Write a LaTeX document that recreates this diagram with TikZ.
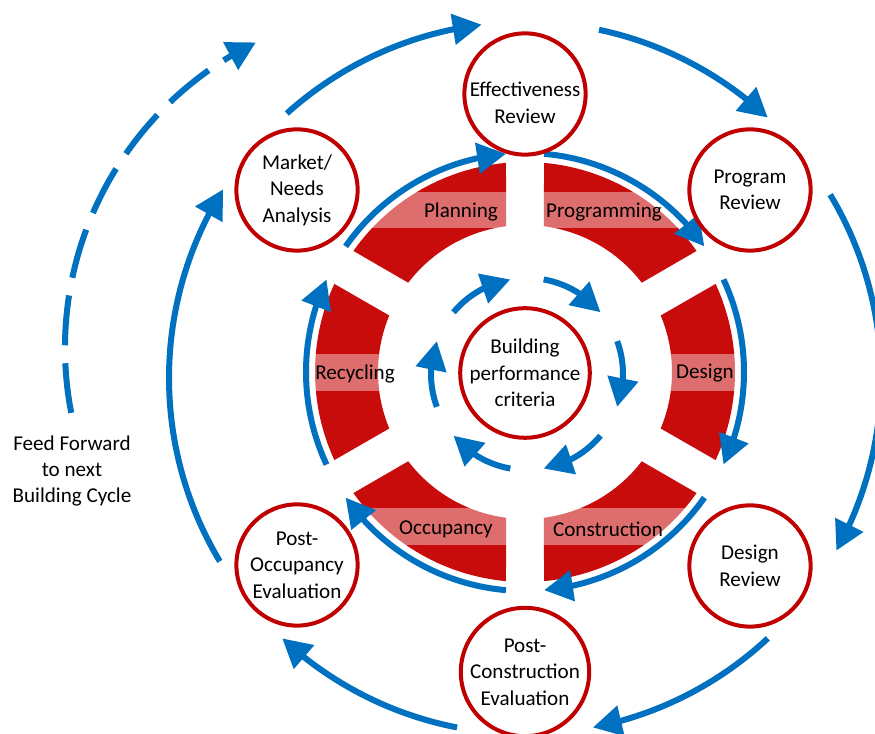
\documentclass[tikz,border=0pt]{standalone}
\usepackage{fontspec}
\setmainfont{Carlito}
\usetikzlibrary{arrows.meta,bending,calc}

\definecolor{ringred}{RGB}{200,12,12}
\definecolor{circred}{RGB}{192,0,0}
\definecolor{flowblue}{RGB}{0,112,192}

\begin{document}
\begin{tikzpicture}[x=0.025cm,y=0.025cm,
    font=\fontsize{15}{18.8}\selectfont,
    stage/.style={draw=circred, line width=0.1cm, circle, fill=white,
        minimum size=3.03cm, inner sep=0pt, align=center},
    flow/.style={draw=flowblue, line width=0.15cm,
        -{Triangle[length=0.72cm,width=0.75cm]}},
    band/.style={fill=white, fill opacity=0.4}]

\useasboundingbox (0,0) rectangle (875,734);

% centres
\coordinate (C) at (525,362);
\coordinate (Ci) at (527,360);
\coordinate (O) at (525,356);
\coordinate (F) at (405,386);

% Red ring, six segments
\foreach \a in {120,60,0,-60,-120,180}
  \fill[ringred] ($(C)+({\a+22.6}:147)$) -- ($(C)+({\a+24.8}:210)$)
    arc[start angle={\a+24.8}, end angle={\a-24.8}, radius=210]
    -- ($(C)+({\a-22.6}:147)$)
    arc[start angle={\a-22.6}, end angle={\a+22.6}, radius=147] -- cycle;

% Light bands behind the labels
\fill[band] (300,506) rectangle (750,542);
\fill[band] (300,343) rectangle (750,380);
\fill[band] (300,189) rectangle (750,226);

% Phase labels
\node (planning) at (461,522) {Planning};
\node (programming) at (604,522) {Programming};
\node (design) at (705,361) {Design};
\node (construction) at (608,205) {Construction};
\node (occupancy) at (446,205) {Occupancy};
\node (recycling) at (355,360) {Recycling};

% Inner cycle
\foreach \i in {0,...,5}
  \draw[flow] ($(Ci)+({140-60*\i}:96)$)
    arc[start angle={140-60*\i}, end angle={100-60*\i}, radius=96];

% Arrows along the ring
\foreach \a in {120,60,0,-60,-120,180}
  \draw[flow] ($(C)+({\a+25}:219)$)
    arc[start angle={\a+25}, end angle={\a-25}, radius=219];

% Outer cycle between the reviews
\foreach \s/\e in {132/97, 78/47, 31/-29, -47/-79, -101/-133, -149/-212}
  \draw[flow] ($(O)+(\s:356)$) arc[start angle=\s, end angle=\e, radius=356];

% Feed forward
\draw[flow, dash pattern=on 1.25cm off 0.45cm] ($(F)+(191:340)$)
  arc[start angle=191, end angle=116, radius=340];
\node[align=center] (feed) at (72,263) {Feed Forward\\to next\\Building Cycle};

% Stages
\node[stage] (criteria) at (525,361) {Building\\performance\\criteria};
\node[stage, label={[align=center, yshift=-0.22cm]center:Effectiveness\\Review}]
  (effectiveness) at (525,640) {};
\node[stage] (program) at (750,544) {Program\\Review};
\node[stage] (designrev) at (750,168) {Design\\Review};
\node[stage] (postcons) at (525,62) {Post-\\Construction\\Evaluation};
\node[stage] (postocc) at (297,169) {Post-\\Occupancy\\Evaluation};
\node[stage] (market) at (297,544) {Market/\\Needs\\Analysis};

\end{tikzpicture}
\end{document}
